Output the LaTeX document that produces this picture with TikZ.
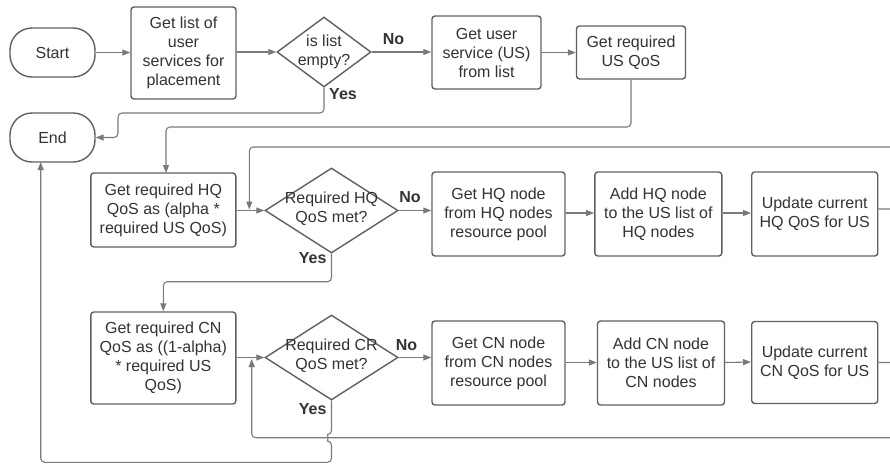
\documentclass[tikz,border=0pt]{standalone}
\usepackage{fontspec}
\setmainfont{Liberation Sans}
\usetikzlibrary{shapes.geometric,arrows.meta}
\definecolor{boxc}{HTML}{606060}
\definecolor{linec}{HTML}{7A7A7A}
\definecolor{txt}{HTML}{333333}
\tikzset{
  box/.style={draw=boxc, line width=1.4pt, rounded corners=3pt, align=center,
    inner sep=1pt, text=txt},
  term/.style={box, rounded corners=22pt, minimum width=85pt, minimum height=49pt},
  dia/.style={draw=boxc, line width=1.4pt, diamond, inner sep=0pt},
  dtext/.style={align=center, inner sep=0pt, text=txt},
  conn/.style={draw=linec, line width=1.1pt, rounded corners=4pt,
    -{Triangle[length=8pt,width=6pt]}},
  lab/.style={font=\fontsize{16}{19}\selectfont\bfseries, text=txt, inner sep=0pt}
}
\begin{document}
\begin{tikzpicture}[x=1pt, y=-1pt, font=\fontsize{16}{19}\selectfont]
\clip (0,0) rectangle (890,464);
\fill[white] (0,0) rectangle (890,464);

% top row
\node[term] (start) at (52.5,52.5) {Start};
\node[box, minimum width=105pt, minimum height=92pt] (b1) at (183.5,53)
  {Get list of\\user\\services for\\placement};
\node[dia, minimum width=94pt, minimum height=70pt] (d1) at (324,52) {};
\node[dtext] (d1t) at (d1) {is list\\empty?};
\node[box, minimum width=109pt, minimum height=73pt] (b3) at (486.5,52.5)
  {Get user\\service (US)\\from list};
\node[box, minimum width=109pt, minimum height=53pt] (b4) at (631,52.5)
  {Get required\\US QoS};
\node[term] (end) at (52.5,137.5) {End};

% HQ row
\node[box, minimum width=145pt, minimum height=74pt] (hq) at (163.3,210)
  {Get required HQ\\QoS as (alpha *\\required US QoS)};
\node[dia, minimum width=133pt, minimum height=85pt] (dhq) at (331.5,210.5) {};
\node[dtext] (dhqt) at (331.5,208.5) {Required HQ\\QoS met?};
\node[box, minimum width=133pt, minimum height=84pt] (ghq) at (498.5,214)
  {Get HQ node\\from HQ nodes\\resource pool};
\node[box, minimum width=127pt, minimum height=84pt] (ahq) at (658.3,214)
  {Add HQ node\\to the US list of\\HQ nodes};
\node[box, minimum width=126pt, minimum height=84pt] (uhq) at (814.7,214)
  {Update current\\HQ QoS for US};

% CN row
\node[box, minimum width=145pt, minimum height=92pt] (cn) at (163.3,358)
  {Get required CN\\QoS as ((1-alpha)\\* required US\\QoS)};
\node[dia, minimum width=133pt, minimum height=85pt] (dcn) at (331.5,357.5) {};
\node[dtext] (dcnt) at (331.5,355.5) {Required CR\\QoS met?};
\node[box, minimum width=133pt, minimum height=84pt] (gcn) at (498.5,363)
  {Get CN node\\from CN nodes\\resource pool};
\node[box, minimum width=127pt, minimum height=84pt] (acn) at (661,363)
  {Add CN node\\to the US list of\\CN nodes};
\node[box, minimum width=126pt, minimum height=82pt] (ucn) at (814.7,362.5)
  {Update current\\CN QoS for US};

% branch labels
\node[lab] (no1) at (393.5,39) {No};
\node[lab] (yes1) at (343,94) {Yes};
\node[lab] (no2) at (410,197) {No};
\node[lab] (yes2) at (312.7,258) {Yes};
\node[lab] (no3) at (406.5,345) {No};
\node[lab] (yes3) at (312.7,409) {Yes};

% top row connectors
\draw[conn] (start.east) -- (b1.west |- start.east);
\draw[conn] (b1.east |- d1.west) -- (d1.west);
\draw[conn] (d1.east) -- (b3.west |- d1.east);
\draw[conn] (b3.east) -- (b4.west);
\draw[conn] (d1.south) |- (118,113) -- (118,137.5) -- (end.east);
\draw[conn] (b4.south) |- (166,127) -- (166,173);

% HQ row connectors
\draw[conn] (hq.east |- dhq.west) -- (dhq.west);
\draw[conn] (dhq.east) -- (ghq.west |- dhq.east);
\draw[conn] ([yshift=1pt]ghq.east) -- ([yshift=1pt]ahq.west);
\draw[conn] ([yshift=1pt]ahq.east) -- ([yshift=1pt]uhq.west);
\draw[conn] ([yshift=5pt]uhq.east) -- (910,209) |- (249.3,147) -- (249.3,209.5);
\draw[conn] (dhq.south) |- (163.3,281.7) -- (cn.north);

% CN row connectors
\draw[conn] (cn.east |- dcn.west) -- (dcn.west);
\draw[conn] (dcn.east) -- (gcn.west |- dcn.east);
\draw[conn] ([yshift=0.5pt]gcn.east) -- ([yshift=0.5pt]acn.west);
\draw[conn] ([yshift=0.5pt]acn.east) -- ([yshift=0.5pt]ucn.west);
\draw[conn] (ucn.east) -- (910,362.5) |- (251.7,437.7) -- (251.7,359);

% exit path with a small hop over the loop-back line
\draw[conn] (dcn.south) -- (331.5,434.5)
  .. controls (328,434.5) and (328,441) .. (331.5,441)
  -- (331.5,462.3) -- (40.7,462.3) -- (40.7,162);
\end{tikzpicture}
\end{document}
